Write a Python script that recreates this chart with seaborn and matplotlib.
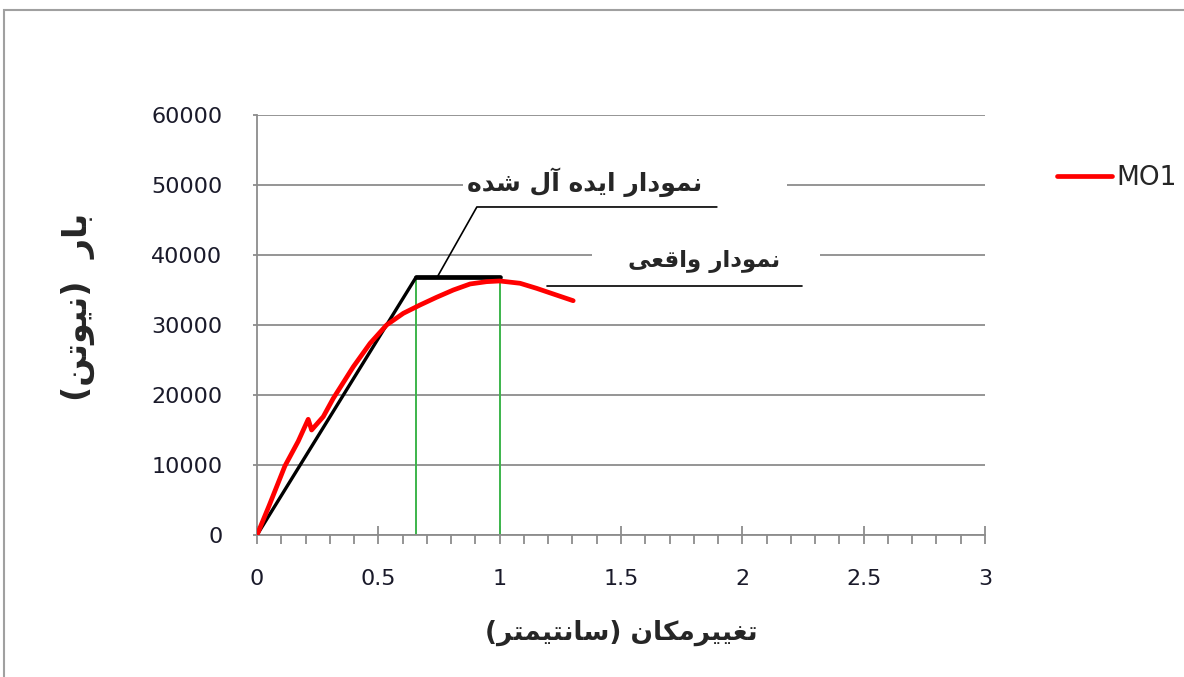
import numpy as np
import pandas as pd
import seaborn as sns
import matplotlib.pyplot as plt
from matplotlib.patches import Rectangle
from matplotlib.ticker import MultipleLocator

# load-displacement curve
disp = [0, 0.05, 0.115, 0.17, 0.211, 0.225, 0.273, 0.314, 0.397, 0.466, 0.534,
        0.603, 0.672, 0.740, 0.809, 0.878, 0.946, 1.0, 1.084, 1.152, 1.221, 1.303]
load = [0, 4200, 9860, 13400, 16530, 15000, 16900, 19500, 24040, 27380, 30000,
        31670, 32860, 33960, 35000, 35860, 36190, 36290, 35960, 35240, 34430, 33470]

# idealised bilinear curve
ideal_x = [0, 0.655, 1.0]
ideal_y = [0, 36800, 36800]

x_ticks = [0, 0.5, 1, 1.5, 2, 2.5, 3]
x_tick_labels = ['0', '0.5', '1', '1.5', '2', '2.5', '3']
y_ticks = [0, 10000, 20000, 30000, 40000, 50000, 60000]

series_name = 'MO1'
label_ideal = 'نمودار ایده آل شده'
label_real = 'نمودار واقعی'
x_label = 'تغییرمکان (سانتیمتر)'
y_label = 'بار  (نیوتن)'

# --- minimal arabic/persian shaping (matplotlib has no text shaping) ---
FORMS = {
    'ا': ('\uFE8D', '\uFE8E', None, None),
    'آ': ('\uFE81', '\uFE82', None, None),
    'د': ('\uFEA9', '\uFEAA', None, None),
    'ر': ('\uFEAD', '\uFEAE', None, None),
    'و': ('\uFEED', '\uFEEE', None, None),
    'ب': ('\uFE8F', '\uFE90', '\uFE91', '\uFE92'),
    'ت': ('\uFE95', '\uFE96', '\uFE97', '\uFE98'),
    'س': ('\uFEB1', '\uFEB2', '\uFEB3', '\uFEB4'),
    'ش': ('\uFEB5', '\uFEB6', '\uFEB7', '\uFEB8'),
    'ع': ('\uFEC9', '\uFECA', '\uFECB', '\uFECC'),
    'غ': ('\uFECD', '\uFECE', '\uFECF', '\uFED0'),
    'ق': ('\uFED5', '\uFED6', '\uFED7', '\uFED8'),
    'ل': ('\uFEDD', '\uFEDE', '\uFEDF', '\uFEE0'),
    'م': ('\uFEE1', '\uFEE2', '\uFEE3', '\uFEE4'),
    'ن': ('\uFEE5', '\uFEE6', '\uFEE7', '\uFEE8'),
    'ه': ('\uFEE9', '\uFEEA', '\uFEEB', '\uFEEC'),
    'ی': ('\uFBFC', '\uFBFD', '\uFBFE', '\uFBFF'),
    'ک': ('\uFB8E', '\uFB8F', '\uFB90', '\uFB91'),
}


def fa(text):
    out = []
    for i, c in enumerate(text):
        if c not in FORMS:
            out.append(c)
            continue
        f = FORMS[c]
        prev = text[i - 1] if i > 0 else None
        nxt = text[i + 1] if i + 1 < len(text) else None
        jp = prev in FORMS and FORMS[prev][2] is not None
        jn = f[2] is not None and nxt in FORMS
        if jp and jn:
            out.append(f[3])
        elif jn:
            out.append(f[2])
        elif jp:
            out.append(f[1])
        else:
            out.append(f[0])
    s = ''.join(reversed(out))
    return s.translate(str.maketrans('()', ')('))


sns.set_style('white')
plt.rcParams['font.family'] = ['DejaVu Sans']

fig = plt.figure(figsize=(11.84, 6.77), dpi=100)
ax = fig.add_axes([257 / 1184, 1 - 535 / 677, 728 / 1184, 420 / 677])

# outer chart border
fig.add_artist(Rectangle((4 / 1184, -0.2), 1.3, 1.2 - 10 / 677,
                         transform=fig.transFigure, fill=False,
                         edgecolor='#a0a0a0', lw=1.5))

df = pd.DataFrame({'disp': disp, 'load': load})
sns.lineplot(data=df, x='disp', y='load', color='#ff0000', lw=3.4, ax=ax,
             label=series_name, solid_joinstyle='round', solid_capstyle='round',
             zorder=4)

sns.lineplot(x=ideal_x[:2], y=ideal_y[:2], color='black', lw=2.4, ax=ax, zorder=3)
sns.lineplot(x=ideal_x[1:], y=ideal_y[1:], color='black', lw=3.4, ax=ax, zorder=3)
ax.vlines([ideal_x[1], ideal_x[2]], 0, ideal_y[1], color='#3cb44b', lw=1.4, zorder=2)

# white text boxes that hide the grid behind the labels
ax.add_patch(Rectangle((0.849, 47600), 1.335, 5200, facecolor='white',
                       edgecolor='none', zorder=1.5))
ax.add_patch(Rectangle((1.38, 37300), 0.94, 4300, facecolor='white',
                       edgecolor='none', zorder=1.5))

ax.text(1.351, 50400, fa(label_ideal), ha='center', va='center',
        fontsize=18, fontweight='bold', zorder=6)
ax.text(1.842, 39100, fa(label_real), ha='center', va='center',
        fontsize=16.5, fontweight='bold', zorder=6)

# leader lines
ax.plot([0.742, 0.906, 1.895], [36800, 46860, 46860], color='black', lw=1.2, zorder=3)
ax.plot([1.195, 2.246], [35570, 35570], color='black', lw=1.2, zorder=3)

ax.set_xlim(0, 3)
ax.set_ylim(0, 60000)
ax.set_xticks(x_ticks)
ax.set_xticklabels(x_tick_labels)
ax.xaxis.set_minor_locator(MultipleLocator(0.1))
ax.set_yticks(y_ticks)
ax.set_yticklabels([str(v) for v in y_ticks])

ax.yaxis.grid(True, color='#8c8c8c', lw=1.3)
ax.xaxis.grid(False)
for s in ['top', 'right']:
    ax.spines[s].set_visible(False)
for s in ['left', 'bottom']:
    ax.spines[s].set_color('#8c8c8c')
    ax.spines[s].set_linewidth(1.3)

ax.tick_params(axis='x', which='both', bottom=True)
ax.tick_params(axis='y', which='major', left=True)
ax.tick_params(axis='x', which='major', direction='inout', length=13, width=1.3,
               color='#8c8c8c', pad=18, labelsize=16, labelcolor='#1a1a2a')
ax.tick_params(axis='x', which='minor', direction='out', length=6.5, width=1.3,
               color='#8c8c8c')
ax.tick_params(axis='y', which='major', direction='out', length=3, width=1.3,
               color='#8c8c8c', pad=22, labelsize=16, labelcolor='#1a1a2a')

ax.set_xlabel(fa(x_label), fontsize=19, fontweight='bold', labelpad=22)
ax.set_ylabel(fa(y_label), fontsize=24, fontweight='bold')
ax.yaxis.set_label_coords((95 - 257) / 728, (535 - 307) / 420)

ax.legend(loc='center left', bbox_to_anchor=(1057 / 1184, 1 - 178 / 677),
          bbox_transform=fig.transFigure, frameon=False, fontsize=19,
          handlelength=2.1, handletextpad=0.15, borderpad=0, borderaxespad=0)

fig.savefig('out.png', dpi=100)
